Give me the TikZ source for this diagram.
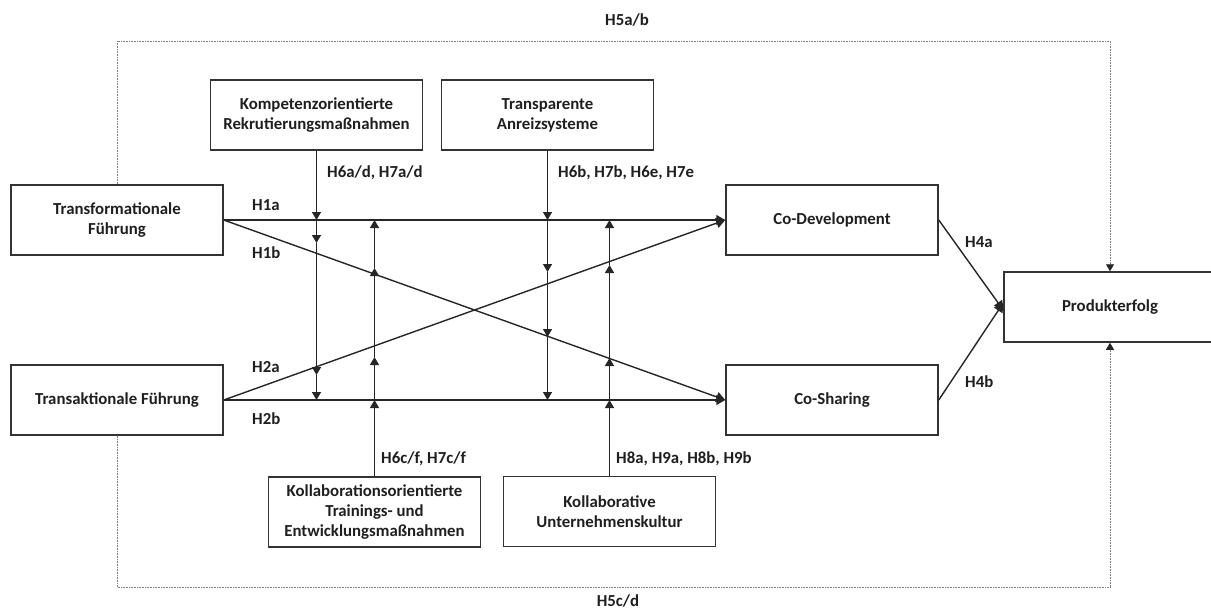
\documentclass[tikz,border=0pt]{standalone}
\usepackage{fontspec}
\setmainfont{Carlito}
\usetikzlibrary{arrows.meta}
\begin{document}
\begin{tikzpicture}[x=1pt,y=-1pt,
  txt/.style={font=\fontsize{16.8}{20}\selectfont\bfseries, text=black!88},
  box/.style={txt, draw=black!80, line width=1.5pt, minimum width=212pt,
    minimum height=70pt, align=center, inner sep=0pt},
  lbl/.style={txt, inner sep=0pt, anchor=base west},
  link/.style={draw=black!85, line width=1.4pt, -{Triangle[length=9pt,width=10pt]}},
  modarrow/.style={draw=black!85, line width=1.4pt, -{Triangle[length=8pt,width=9pt]}},
  frame/.style={draw=black!50, line width=0.8pt, dash pattern=on 0.8pt off 0.8pt},
  framearrow/.style={frame, -{Triangle[length=7pt,width=8pt,color=black!85]}}
]
\useasboundingbox (0,0) rectangle (1211,611);
\clip (0,0) rectangle (1211,611);

% constructs
\node[box] (TF)  at (117,220)   {Transformationale\\Führung};
\node[box] (TA)  at (117,400)   {Transaktionale Führung};
\node[box] (KR)  at (316.5,115) {Kompetenzorientierte\\Rekrutierungsmaßnahmen};
\node[box] (TAS) at (547.5,115) {Transparente\\Anreizsysteme};
\node[box] (CD)  at (832,220)   {Co-Development};
\node[box] (CS)  at (832,400)   {Co-Sharing};
\node[box] (PE)  at (1110,307)  {Produkterfolg};
\node[box] (KT)  at (374.5,512) {Kollaborationsorientierte\\Trainings- und\\Entwicklungsmaßnahmen};
\node[box] (KU)  at (609.5,511.5) {Kollaborative\\Unternehmenskultur};

% main effects
\draw[link] (TF.east) -- (CD.west);
\draw[link] (TF.east) -- (CS.west);
\draw[link] (TA.east) -- (CD.west);
\draw[link] (TA.east) -- (CS.west);
\draw[link] (CD.east) -- ([yshift=-3pt]PE.west);
\draw[link] (CS.east) -- ([yshift=4pt]PE.west);

% moderator paths (arrow tips along each vertical line)
\coordinate (k1) at (316.5,220); \coordinate (k2) at (316.5,243);
\coordinate (k3) at (316.5,375); \coordinate (k4) at (316.5,400);
\draw[modarrow] (KR.south) -- (k1);
\draw[modarrow] (k1) -- (k2);
\draw[modarrow] (k2) -- (k3);
\draw[modarrow] (k3) -- (k4);

\coordinate (t1) at (547.5,220); \coordinate (t2) at (547.5,272);
\coordinate (t3) at (547.5,337); \coordinate (t4) at (547.5,400);
\draw[modarrow] (TAS.south) -- (t1);
\draw[modarrow] (t1) -- (t2);
\draw[modarrow] (t2) -- (t3);
\draw[modarrow] (t3) -- (t4);

\coordinate (e1) at (374.5,400); \coordinate (e2) at (374.5,357);
\coordinate (e3) at (374.5,268); \coordinate (e4) at (374.5,220);
\draw[modarrow] (KT.north) -- (e1);
\draw[modarrow] (e1) -- (e2);
\draw[modarrow] (e2) -- (e3);
\draw[modarrow] (e3) -- (e4);

\coordinate (u1) at (609.5,400); \coordinate (u2) at (609.5,358);
\coordinate (u3) at (609.5,265); \coordinate (u4) at (609.5,220);
\draw[modarrow] (KU.north) -- (u1);
\draw[modarrow] (u1) -- (u2);
\draw[modarrow] (u2) -- (u3);
\draw[modarrow] (u3) -- (u4);

% dotted frame for H5
\draw[framearrow] (TF.north) -- (TF.north |- 0,41) -- (PE.north |- 0,41) -- (PE.north);
\draw[framearrow] (TA.south) -- (TA.south |- 0,587) -- (PE.south |- 0,587) -- (PE.south);

% hypothesis labels
\node[lbl] at (252,210) {H1a};
\node[lbl] at (252,258) {H1b};
\node[lbl] at (252,372) {H2a};
\node[lbl] at (252,424) {H2b};
\node[lbl] at (327,177) {H6a/d, H7a/d};
\node[lbl] at (558,177) {H6b, H7b, H6e, H7e};
\node[lbl] at (381,463) {H6c/f, H7c/f};
\node[lbl] at (616,463) {H8a, H9a, H8b, H9b};
\node[lbl] at (965,247) {H4a};
\node[lbl] at (965,387) {H4b};
\node[txt, inner sep=0pt, anchor=base] at (627,25) {H5a/b};
\node[txt, inner sep=0pt, anchor=base] at (618,606.5) {H5c/d};
\end{tikzpicture}
\end{document}
